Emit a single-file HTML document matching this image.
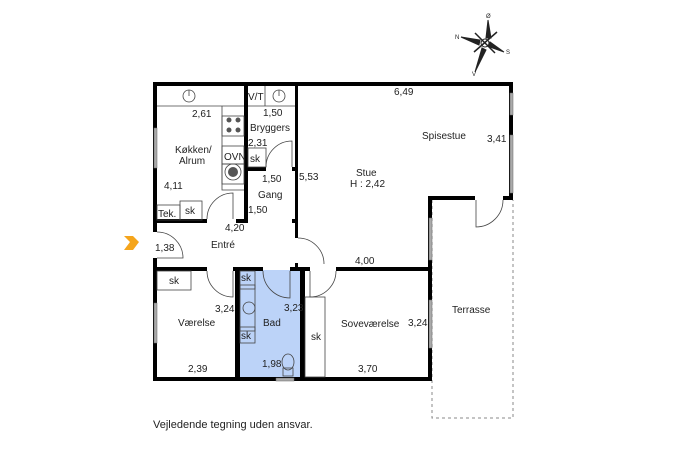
<!DOCTYPE html>
<html><head><meta charset="utf-8"><style>
html,body{margin:0;padding:0;background:#fff;}
svg{display:block;font-family:"Liberation Sans",sans-serif;}
text{font-size:10px;fill:#222;}
</style></head><body>
<svg width="687" height="457" viewBox="0 0 687 457" xmlns="http://www.w3.org/2000/svg">
<rect width="687" height="457" fill="#fff"/>
<!-- Bad fill -->
<rect x="238" y="270" width="64" height="108" fill="#bcd3f8"/>
<!-- Terrasse dashed -->
<path d="M432 200 V418 H513 V200" fill="none" stroke="#888" stroke-width="1" stroke-dasharray="3,3"/>
<g fill="#000">
<!-- outer walls -->
<rect x="153" y="82" width="360" height="4"/>
<rect x="153" y="82" width="4" height="150"/>
<rect x="153" y="258" width="4" height="123"/>
<rect x="509" y="82" width="4" height="118"/>
<rect x="428" y="196" width="47" height="4"/>
<rect x="503" y="196" width="10" height="4"/>
<rect x="428" y="196" width="4" height="185"/>
<rect x="153" y="377" width="279" height="4"/>
<!-- interior -->
<rect x="244" y="82" width="4" height="140"/>
<rect x="295" y="82" width="3" height="156"/>
<rect x="246" y="167" width="20" height="4"/>
<rect x="292" y="167" width="5" height="4"/>
<rect x="157" y="219" width="50" height="4"/>
<rect x="236" y="219" width="12" height="4"/>
<rect x="292" y="219" width="6" height="4"/>
<rect x="153" y="267" width="54" height="4"/>
<rect x="233" y="267" width="30" height="4"/>
<rect x="290" y="267" width="20" height="4"/>
<rect x="336" y="267" width="94" height="4"/>
<rect x="235" y="267" width="5" height="114"/>
<rect x="300" y="267" width="5" height="114"/>
<rect x="295" y="263" width="3" height="6"/>
</g>
<!-- windows -->
<g fill="#aaa" stroke="#666" stroke-width="0.5">
<rect x="154" y="128" width="3" height="40"/>
<rect x="154" y="303" width="3" height="40"/>
<rect x="510" y="93" width="3" height="22"/>
<rect x="510" y="135" width="3" height="58"/>
<rect x="429" y="218" width="3" height="42"/>
<rect x="429" y="300" width="3" height="48"/>
<rect x="276" y="378" width="18" height="3"/>
</g>
<!-- counters -->
<g fill="none" stroke="#444" stroke-width="0.8">
<path d="M157 106 H244"/>
<rect x="222" y="116" width="22" height="20"/>
<rect x="222" y="146" width="22" height="18"/>
<rect x="222" y="164" width="22" height="20"/>
<path d="M222 106 V190 H244"/>
<path d="M248 106 H295 M265 86 V106"/>
<rect x="248" y="148" width="18" height="19"/>
<rect x="157" y="205" width="23" height="15"/>
<rect x="180" y="201" width="22" height="19"/>
<rect x="157" y="271" width="34" height="19"/>
<rect x="240" y="271" width="15" height="18"/>
<rect x="240" y="285" width="15" height="46"/>
<rect x="240" y="327" width="15" height="16"/>
<rect x="305" y="297" width="20" height="80"/>
<circle cx="189" cy="96" r="6"/><path d="M189 90 V96"/>
<circle cx="279" cy="96" r="6"/><path d="M279 90 V96"/>
<circle cx="249" cy="308" r="6"/>
<circle cx="233" cy="172" r="8"/>
<ellipse cx="288" cy="362" rx="6" ry="8"/>
<rect x="283" y="368" width="10" height="8"/>
<!-- doors -->
<path d="M157 232 A26 26 0 0 1 183 258 H157"/>
<path d="M207 219 A26 26 0 0 1 233 193 V219"/>
<path d="M266 167 A26 26 0 0 1 292 141 V167"/>
<path d="M207 271 A26 26 0 0 0 233 297 V271"/>
<path d="M298 238 A26 26 0 0 1 324 264"/>
<path d="M263 271 A27 27 0 0 0 290 298 V271"/>
<path d="M310 271 V297 A26 26 0 0 0 336 271"/>
<path d="M476 200 V227 A27 27 0 0 0 503 200"/>
</g>
<g fill="#555"><circle cx="229" cy="120" r="2.5"/><circle cx="238" cy="120" r="2.5"/><circle cx="229" cy="130" r="2.5"/><circle cx="238" cy="130" r="2.5"/><circle cx="233" cy="172" r="5"/></g>
<!-- arrow -->
<path d="M124 236 L133 236 L139 242 L133 250 L124 250 L130 242 Z" fill="#f5a51c"/>
<!-- compass -->
<g stroke="#222" stroke-width="1" fill="#222">
<path d="M488 20 L491 38 L486 38 Z"/><path d="M475 72 L482 48 L486 50 Z"/>
<path d="M461 37 L480 40 L479 45 Z"/><path d="M504 52 L487 46 L490 42 Z"/>
<circle cx="485" cy="43" r="4" fill="#fff"/>
<path d="M475 33 L495 53 M497 32 L474 52" stroke-width="1.5"/>
</g>
<g font-size="5" style="font-size:5px"><text x="486" y="18" style="font-size:6px">Ø</text><text x="455" y="39" style="font-size:6px">N</text><text x="506" y="54" style="font-size:6px">S</text><text x="472" y="76" style="font-size:6px">V</text></g>
<!-- labels -->
<text x="192" y="117">2,61</text>
<text x="248" y="100">V/T</text>
<text x="263" y="116">1,50</text>
<text x="250" y="131">Bryggers</text>
<text x="248" y="146">2,31</text>
<text x="250" y="162">sk</text>
<text x="224" y="160">OVN</text>
<text x="175" y="153">Køkken/</text>
<text x="179" y="164">Alrum</text>
<text x="164" y="189">4,11</text>
<text x="262" y="182">1,50</text>
<text x="258" y="198">Gang</text>
<text x="248" y="213">1,50</text>
<text x="299" y="180">5,53</text>
<text x="158" y="217">Tek.</text>
<text x="185" y="214">sk</text>
<text x="225" y="231">4,20</text>
<text x="211" y="248">Entré</text>
<text x="155" y="251">1,38</text>
<text x="394" y="95">6,49</text>
<text x="422" y="139">Spisestue</text>
<text x="487" y="142">3,41</text>
<text x="356" y="176">Stue</text>
<text x="350" y="187">H : 2,42</text>
<text x="355" y="264">4,00</text>
<text x="169" y="284">sk</text>
<text x="241" y="281">sk</text>
<text x="241" y="339">sk</text>
<text x="215" y="312">3,24</text>
<text x="284" y="311">3,23</text>
<text x="178" y="326">Værelse</text>
<text x="263" y="326">Bad</text>
<text x="311" y="340">sk</text>
<text x="341" y="327">Soveværelse</text>
<text x="408" y="326">3,24</text>
<text x="452" y="313">Terrasse</text>
<text x="188" y="372">2,39</text>
<text x="262" y="367">1,98</text>
<text x="358" y="372">3,70</text>
<text x="153" y="428" style="font-size:11px">Vejledende tegning uden ansvar.</text>
</svg>
</body></html>
